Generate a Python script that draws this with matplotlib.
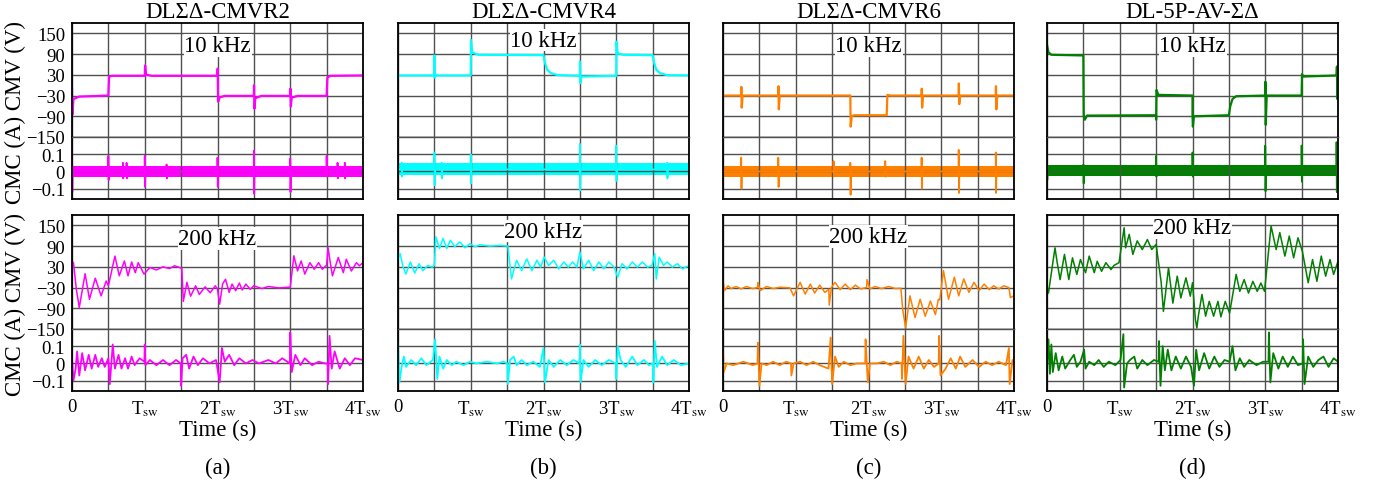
import matplotlib.pyplot as plt

plt.rcParams['font.family'] = ['Liberation Serif', 'DejaVu Serif']
plt.rcParams['mathtext.fontset'] = 'stix'

# ---- labels / style data ----
titles = ['DLΣΔ-CMVR2', 'DLΣΔ-CMVR4', 'DLΣΔ-CMVR6', 'DL-5P-AV-ΣΔ']
tags = ['(a)', '(b)', '(c)', '(d)']
colors = ['#ff00ff', '#00ffff', '#ff8000', '#008000']
x_ticks = [0, 1, 2, 3, 4]
x_labels = ['0', 'T$_{\\rm sw}$', '2T$_{\\rm sw}$', '3T$_{\\rm sw}$', '4T$_{\\rm sw}$']
cmv_ticks = [150, 90, 30, -30, -90, -150]
cmc_ticks = [0.1, 0, -0.1]
freq_labels = ['10 kHz', '200 kHz']

# ---- 10 kHz CMV (t in Tsw, V) ----
a10_cmv = [(0, -10), (0.005, -85), (0.02, -40), (0.1, -33), (0.5, -30), (0.51, 25), (0.55, 27),
           (1.0, 27), (1.005, 57), (1.02, 30), (1.1, 27), (2.0, 27), (2.002, 48), (2.008, -48),
           (2.03, -35), (2.1, -31), (2.5, -31), (2.502, 0), (2.508, -68), (2.52, -38), (2.6, -31),
           (3.0, -31), (3.002, -10), (3.008, -62), (3.02, -36), (3.1, -31), (3.5, -31), (3.51, 22),
           (3.55, 27), (4.0, 28)]
b10_cmv = [(0, 28), (0.497, 28), (0.5, 86), (0.505, 22), (0.52, 28), (1.0, 28), (1.003, 131),
           (1.02, 95), (1.1, 88), (2.0, 87), (2.02, 65), (2.05, 45), (2.1, 35), (2.2, 29), (2.5, 27),
           (2.502, 68), (2.507, 6), (2.52, 25), (3.0, 27), (3.003, 126), (3.02, 92), (3.1, 88),
           (3.5, 87), (3.52, 65), (3.55, 45), (3.6, 35), (3.7, 29), (4.0, 28)]
c10_cmv = [(0, -30), (0.25, -30), (0.252, -5), (0.257, -65), (0.27, -30), (0.76, -30), (0.762, -3),
           (0.767, -70), (0.78, -30), (1.75, -30), (1.755, -120), (1.77, -90), (1.8, -87),
           (2.25, -87), (2.26, -28), (2.3, -30), (2.73, -30), (2.732, -10), (2.737, -65), (2.75, -30),
           (3.24, -30), (3.242, 5), (3.247, -55), (3.26, -30), (3.75, -30), (3.752, -3), (3.757, -70),
           (3.77, -30), (4.0, -30)]
d10_cmv = [(0, 117), (0.02, 95), (0.06, 88), (0.5, 86), (0.505, -85), (0.52, -100), (0.55, -88),
           (1.5, -87), (1.5, -100), (1.505, -14), (1.53, -28), (2.0, -30), (2.0, -85), (2.005, -120),
           (2.02, -90), (2.5, -87), (2.52, -60), (2.55, -40), (2.6, -32), (3.0, -30), (3.002, 10),
           (3.007, -115), (3.02, -30), (3.5, -30), (3.505, 32), (3.52, 25), (3.98, 28), (3.985, 54),
           (3.99, -40), (4.0, 28)]

# ---- 10 kHz CMC: spikes (t, high, low), noise level and half-band (A) ----
a10_spikes = [(0.0, 0.12, -0.12), (0.5, 0.09, -0.05), (0.7, 0.05, -0.04), (0.75, 0.05, -0.04),
              (1.0, 0.09, -0.09), (1.3, 0.04, -0.04), (2.0, 0.08, -0.09), (2.5, 0.12, -0.13),
              (3.0, 0.075, -0.12), (3.5, 0.09, -0.03), (3.65, 0.05, -0.04), (3.75, 0.05, -0.04)]
b10_spikes = [(0.05, 0.05, -0.03), (0.5, 0.11, -0.08), (0.6, 0.05, -0.04), (1.0, 0.10, -0.07),
              (2.5, 0.16, -0.11), (3.0, 0.15, -0.055), (3.7, 0.05, -0.04)]
c10_spikes = [(0.25, 0.08, -0.10), (0.76, 0.08, -0.09), (1.52, 0.06, -0.03), (1.75, 0.05, -0.135),
              (2.23, 0.06, -0.03), (2.73, 0.08, -0.10), (3.24, 0.125, -0.125), (3.75, 0.11, -0.125)]
d10_spikes = [(0.0, 0.10, -0.05), (0.5, 0.04, -0.07), (1.5, 0.09, -0.03), (2.0, 0.11, -0.03),
              (3.0, 0.15, -0.115), (3.5, 0.15, -0.06), (3.98, 0.17, -0.12)]
cmc10_level = [0.0, 0.012, 0.0, 0.005]
cmc10_noise = [0.034, 0.035, 0.034, 0.031]

# ---- 200 kHz CMV ----
a200_cmv = [(0, 47), (0.02, 42), (0.06, -35), (0.10, -88), (0.18, 10), (0.24, -64), (0.32, -3),
            (0.40, -54), (0.47, -11), (0.50, -25), (0.59, 61), (0.65, 4), (0.72, 47), (0.77, 4),
            (0.82, 44), (0.87, 13), (0.91, 42), (0.99, 9), (1.07, 28), (1.16, 21), (1.25, 30),
            (1.34, 25), (1.41, 33), (1.48, 28), (1.51, 25), (1.53, -70), (1.58, -15), (1.63, -55),
            (1.70, -25), (1.75, -50), (1.83, -28), (1.90, -45), (1.97, -25), (2.0, -35), (2.03, -78),
            (2.07, -20), (2.11, -6), (2.16, -44), (2.2, -20), (2.25, -39), (2.3, -17), (2.34, -37),
            (2.39, -20), (2.45, -35), (2.5, -25), (2.61, -33), (2.7, -27), (2.84, -31), (2.98, -29),
            (3.0, -30), (3.05, 62), (3.1, 18), (3.15, 47), (3.2, 9), (3.27, 42), (3.33, 23), (3.39, 42),
            (3.44, 23), (3.5, 35), (3.52, 85), (3.55, 42), (3.58, 4), (3.66, 57), (3.73, 13),
            (3.77, 52), (3.84, 18), (3.91, 42), (3.95, 33), (4.0, 42)]
b200_cmv = [(0, 53), (0.03, 68), (0.07, 29), (0.11, 9), (0.17, 44), (0.23, 12), (0.29, 39), (0.34, 19),
            (0.41, 34), (0.47, 29), (0.5, 34), (0.52, 117), (0.57, 83), (0.62, 112), (0.67, 83),
            (0.72, 107), (0.78, 88), (0.85, 102), (0.92, 85), (0.99, 97), (1.06, 88), (1.13, 94),
            (1.26, 90), (1.4, 92), (1.51, 90), (1.56, -5), (1.63, 49), (1.7, 19), (1.77, 53), (1.84, 19),
            (1.91, 49), (1.96, 29), (2.01, 58), (2.07, 34), (2.14, 49), (2.21, 24), (2.28, 44),
            (2.34, 29), (2.4, 44), (2.46, 29), (2.5, 73), (2.55, 24), (2.62, 49), (2.69, 19), (2.76, 44),
            (2.83, 24), (2.9, 44), (2.97, 29), (3.02, 0), (3.08, 39), (3.15, 24), (3.22, 44), (3.29, 29),
            (3.36, 44), (3.43, 29), (3.49, 34), (3.53, 68), (3.55, -5), (3.59, 58), (3.65, 34),
            (3.7, 44), (3.77, 29), (3.84, 39), (3.91, 24), (4.0, 34)]
c200_cmv = [(0, -10), (0.02, -39), (0.07, -25), (0.11, -33), (0.18, -27), (0.25, -34), (0.32, -27),
            (0.41, -33), (0.475, -30), (0.48, -15), (0.51, -39), (0.6, -27), (0.69, -33), (0.78, -29),
            (0.92, -31), (0.97, -54), (1.06, -15), (1.13, -49), (1.2, -20), (1.26, -46), (1.33, -23),
            (1.4, -44), (1.455, -35), (1.46, -81), (1.49, -30), (1.54, -15), (1.61, -36), (1.68, -20),
            (1.75, -36), (1.82, -23), (1.89, -34), (1.975, -30), (1.98, -7), (2.02, -34), (2.09, -27),
            (2.18, -33), (2.28, -27), (2.37, -33), (2.445, -32), (2.47, -93), (2.51, -147),
            (2.57, -54), (2.64, -117), (2.71, -64), (2.78, -113), (2.85, -69), (2.92, -108),
            (2.96, -64), (2.98, -66), (3.03, 19), (3.1, -64), (3.18, 0), (3.24, -54), (3.31, -5),
            (3.38, -44), (3.45, -15), (3.52, -39), (3.59, -20), (3.66, -36), (3.72, -25), (3.79, -34),
            (3.86, -25), (3.93, -30), (3.95, -59), (4.0, -54)]
d200_cmv = [(0, -31), (0.02, -46), (0.07, 27), (0.11, 85), (0.14, 42), (0.18, -7), (0.24, 66),
            (0.3, -7), (0.35, 56), (0.41, 8), (0.46, 51), (0.53, 13), (0.58, 61), (0.65, 13), (0.69, 46),
            (0.75, 17), (0.81, 42), (0.88, 22), (0.92, 34), (0.99, 42), (1.06, 143), (1.08, 85),
            (1.13, 124), (1.18, 66), (1.24, 105), (1.31, 80), (1.38, 109), (1.44, 80), (1.5, 95),
            (1.57, -16), (1.6, -99), (1.67, 27), (1.73, -75), (1.79, 3), (1.84, -60), (1.91, -2),
            (1.97, -55), (2.0, -16), (2.04, -123), (2.06, -147), (2.08, -113), (2.13, -50), (2.18, -113),
            (2.23, -70), (2.29, -113), (2.35, -70), (2.39, -115), (2.45, -70), (2.51, -104), (2.6, 8),
            (2.65, -41), (2.71, -7), (2.77, -46), (2.83, -12), (2.89, -41), (2.94, -17), (2.99, -41),
            (3.08, 148), (3.15, 80), (3.2, 129), (3.27, 61), (3.33, 119), (3.39, 56), (3.45, 114),
            (3.51, 75), (3.59, -16), (3.65, 51), (3.71, -12), (3.77, 61), (3.83, 3), (3.89, 51),
            (3.94, 8), (4.0, 46)]

# ---- 200 kHz CMC ----
a200_cmc = [(0, 0.03), (0.02, -0.10), (0.05, -0.03), (0.07, 0.07), (0.1, -0.07), (0.14, 0.06),
            (0.18, -0.04), (0.23, 0.05), (0.27, -0.03), (0.32, 0.05), (0.36, -0.02), (0.41, 0.03),
            (0.45, -0.02), (0.5, 0.03), (0.52, -0.12), (0.56, 0.11), (0.59, -0.03), (0.64, 0.05),
            (0.68, -0.03), (0.73, 0.03), (0.77, -0.03), (0.82, 0.04), (0.86, -0.01), (0.93, 0.03),
            (0.995, 0.01), (1.0, 0.11), (1.01, -0.01), (1.07, 0.02), (1.16, -0.01), (1.25, 0.02),
            (1.34, -0.01), (1.43, 0.02), (1.495, 0.0), (1.5, -0.13), (1.52, 0.03), (1.57, 0.05),
            (1.61, -0.03), (1.67, 0.04), (1.73, -0.01), (1.8, 0.03), (1.89, 0.0), (1.98, 0.02),
            (2.03, -0.11), (2.06, 0.09), (2.1, 0.01), (2.16, 0.05), (2.23, -0.01), (2.3, 0.03),
            (2.39, 0.0), (2.48, 0.02), (2.57, 0.0), (2.7, 0.02), (2.8, 0.0), (2.89, 0.03),
            (2.995, 0.0), (3.0, 0.18), (3.02, -0.05), (3.07, 0.05), (3.14, -0.01), (3.2, 0.03),
            (3.3, -0.01), (3.39, 0.01), (3.48, 0.0), (3.515, 0.0), (3.52, -0.12), (3.54, 0.16),
            (3.57, -0.03), (3.61, 0.07), (3.68, -0.03), (3.75, 0.03), (3.82, -0.01), (3.89, 0.03),
            (4.0, 0.02)]
b200_cmc = [(0, 0.12), (0.02, -0.11), (0.05, -0.02), (0.08, 0.04), (0.11, -0.02), (0.18, 0.02),
            (0.25, -0.01), (0.32, 0.03), (0.39, -0.01), (0.48, 0.02), (0.51, 0.14), (0.54, -0.09),
            (0.57, 0.04), (0.62, -0.03), (0.67, 0.02), (0.74, -0.01), (0.8, 0.01), (0.9, -0.01),
            (0.99, 0.01), (1.08, 0.0), (1.22, 0.01), (1.36, 0.0), (1.45, 0.01), (1.505, 0.0),
            (1.51, -0.12), (1.54, 0.02), (1.59, 0.04), (1.63, -0.01), (1.7, 0.02), (1.77, -0.01),
            (1.86, 0.01), (1.95, -0.02), (2.0, 0.09), (2.02, -0.11), (2.07, 0.02), (2.14, -0.02),
            (2.23, 0.02), (2.32, -0.01), (2.41, 0.02), (2.495, 0.0), (2.5, 0.11), (2.51, -0.11),
            (2.55, 0.02), (2.62, -0.02), (2.71, 0.02), (2.8, -0.01), (2.9, 0.02), (2.995, 0.0),
            (3.0, -0.09), (3.02, 0.1), (3.06, 0.02), (3.13, -0.02), (3.22, 0.04), (3.29, -0.01),
            (3.38, 0.02), (3.45, -0.01), (3.505, 0.0), (3.51, -0.11), (3.53, 0.13), (3.56, -0.02),
            (3.63, 0.04), (3.7, -0.01), (3.79, 0.02), (3.89, -0.01), (4.0, 0.0)]
c200_cmc = [(0, 0.09), (0.01, -0.05), (0.05, 0.0), (0.14, -0.01), (0.28, 0.01), (0.41, -0.01),
            (0.475, 0.0), (0.48, 0.12), (0.5, -0.13), (0.53, 0.0), (0.6, -0.01), (0.69, 0.01),
            (0.78, -0.01), (0.87, 0.01), (0.935, 0.0), (0.94, -0.07), (0.97, 0.0), (1.06, 0.01),
            (1.15, -0.01), (1.24, 0.01), (1.33, -0.01), (1.45, -0.03), (1.48, 0.15), (1.5, -0.12),
            (1.54, 0.04), (1.59, -0.02), (1.66, 0.01), (1.75, -0.01), (1.84, 0.0), (1.955, 0.0),
            (1.96, 0.14), (1.99, -0.11), (2.02, 0.0), (2.11, 0.0), (2.21, 0.01), (2.3, -0.01),
            (2.39, 0.01), (2.455, 0.0), (2.46, -0.09), (2.48, 0.16), (2.51, -0.12), (2.55, 0.04),
            (2.62, -0.03), (2.69, 0.04), (2.76, -0.03), (2.83, 0.02), (2.9, -0.02), (2.965, 0.0),
            (2.97, 0.16), (2.99, -0.07), (3.06, -0.03), (3.13, 0.03), (3.2, -0.03), (3.26, 0.04),
            (3.33, -0.02), (3.43, 0.02), (3.52, -0.02), (3.61, 0.01), (3.7, -0.01), (3.79, 0.01),
            (3.89, -0.01), (3.93, 0.09), (3.94, -0.12), (3.98, 0.02), (4.0, 0.0)]
d200_cmc = [(0, -0.02), (0.02, 0.14), (0.04, -0.06), (0.06, 0.11), (0.08, -0.05), (0.12, 0.06),
            (0.16, -0.04), (0.21, 0.04), (0.25, -0.03), (0.32, 0.02), (0.37, 0.05), (0.41, -0.02),
            (0.46, 0.01), (0.51, 0.08), (0.53, -0.03), (0.58, 0.01), (0.65, -0.01), (0.71, 0.02),
            (0.78, -0.02), (0.85, 0.01), (0.94, -0.01), (1.01, 0.02), (1.05, 0.17), (1.06, -0.14),
            (1.1, 0.0), (1.14, 0.02), (1.2, 0.04), (1.24, -0.03), (1.31, 0.02), (1.38, -0.01),
            (1.47, 0.02), (1.535, 0.01), (1.54, 0.13), (1.56, -0.13), (1.59, 0.1), (1.62, -0.04),
            (1.66, 0.08), (1.71, -0.04), (1.77, 0.04), (1.84, -0.03), (1.91, 0.04), (1.98, -0.02),
            (2.02, -0.13), (2.05, 0.08), (2.09, -0.04), (2.16, 0.06), (2.23, -0.03), (2.3, 0.04),
            (2.37, -0.02), (2.44, 0.02), (2.51, 0.01), (2.55, 0.1), (2.59, -0.04), (2.65, 0.03),
            (2.71, -0.02), (2.78, 0.02), (2.88, -0.01), (2.97, 0.01), (3.045, 0.01), (3.05, 0.18),
            (3.07, -0.11), (3.11, 0.06), (3.18, -0.03), (3.24, 0.04), (3.31, -0.02), (3.38, 0.04),
            (3.45, -0.01), (3.515, 0.0), (3.52, 0.14), (3.54, -0.12), (3.59, 0.04), (3.66, -0.02),
            (3.73, 0.02), (3.8, 0.04), (3.87, -0.02), (3.94, 0.03), (4.0, 0.01)]

cmv10 = [a10_cmv, b10_cmv, c10_cmv, d10_cmv]
spikes10 = [a10_spikes, b10_spikes, c10_spikes, d10_spikes]
cmv200 = [a200_cmv, b200_cmv, c200_cmv, d200_cmv]
cmc200 = [a200_cmc, b200_cmc, c200_cmc, d200_cmc]
label_v = [[115, 130, 115, 115], [112, 133, 118, 144]]   # where the kHz tag sits (V)

# ---- layout (pixels of a 1382x489 canvas) ----
W, H = 1382, 489
lefts = [72, 398, 723, 1047]
pw = 291
rows = [(24, 138, 200), (216, 330, 392)]   # top, cmv/cmc split, bottom
GRID = '#505050'

fig = plt.figure(figsize=(W / 100, H / 100), dpi=100)


def style(ax, yticks, ylim, show_y, show_x, inner):
    ax.set_xlim(0, 4)
    ax.set_ylim(*ylim)
    ax.set_xticks(x_ticks)
    ax.set_xticks([0.5, 1.5, 2.5, 3.5], minor=True)
    ax.set_yticks(yticks)
    ax.grid(True, which='both', color=GRID, lw=1.0)
    ax.tick_params(which='both', length=0, labelsize=13.5, pad=5)
    ax.set_xticklabels(x_labels if show_x else [])
    if show_y:
        ax.set_yticklabels([f'{v:g}'.replace('-', '\u2212') for v in yticks])
    else:
        ax.set_yticklabels([])
    for s in ax.spines.values():
        s.set_color('black')
        s.set_linewidth(1.3)
    ax.spines[inner].set_color(GRID)
    ax.spines[inner].set_linewidth(1.0)


for r, (top, mid, bot) in enumerate(rows):
    for c in range(4):
        x0 = lefts[c] / W
        ax_v = fig.add_axes([x0, 1 - mid / H, pw / W, (mid - top) / H])
        ax_c = fig.add_axes([x0, 1 - bot / H, pw / W, (bot - mid) / H])
        style(ax_v, cmv_ticks, (-150, 180), c == 0, False, 'bottom')
        style(ax_c, cmc_ticks, (-0.16, 0.2), c == 0, r == 1, 'top')
        col = colors[c]
        if r == 0:
            t, v = zip(*cmv10[c])
            ax_v.plot(t, v, color=col, lw=1.6)
            lvl, nz = cmc10_level[c], cmc10_noise[c]
            ax_c.fill_between([0, 4], lvl - nz, lvl + nz, color=col, lw=0)
            tt, cc = [0], [lvl]
            for ts, hi, lo in sorted(spikes10[c]):
                tt += [max(ts - 0.001, 0), ts, ts + 0.004, ts + 0.009]
                cc += [lvl, hi, lo, lvl]
            tt.append(4)
            cc.append(lvl)
            ax_c.plot(tt, cc, color=col, lw=1.3)
        else:
            t, v = zip(*cmv200[c])
            ax_v.plot(t, v, color=col, lw=1.1)
            t, v = zip(*cmc200[c])
            ax_c.plot(t, v, color=col, lw=1.3)
            ax_c.set_xlabel('Time (s)', fontsize=16.5, labelpad=1)
        ax_v.text(2, label_v[r][c], freq_labels[r], ha='center', va='center', fontsize=16.5,
                  zorder=5, bbox=dict(fc='white', ec='none', pad=0.5))
        if r == 0:
            fig.text((lefts[c] + pw / 2) / W, 1 - 13 / H, titles[c], ha='center', va='center',
                     fontsize=16.5)
        else:
            fig.text((lefts[c] + pw / 2) / W, 1 - 468 / H, tags[c], ha='center', va='center',
                     fontsize=16.5)
    fig.text(15 / W, 1 - (top + bot) / 2 / H, 'CMC (A) CMV (V)', rotation=90, ha='center',
             va='center', fontsize=16.5)

fig.savefig('out.png', dpi=100)
